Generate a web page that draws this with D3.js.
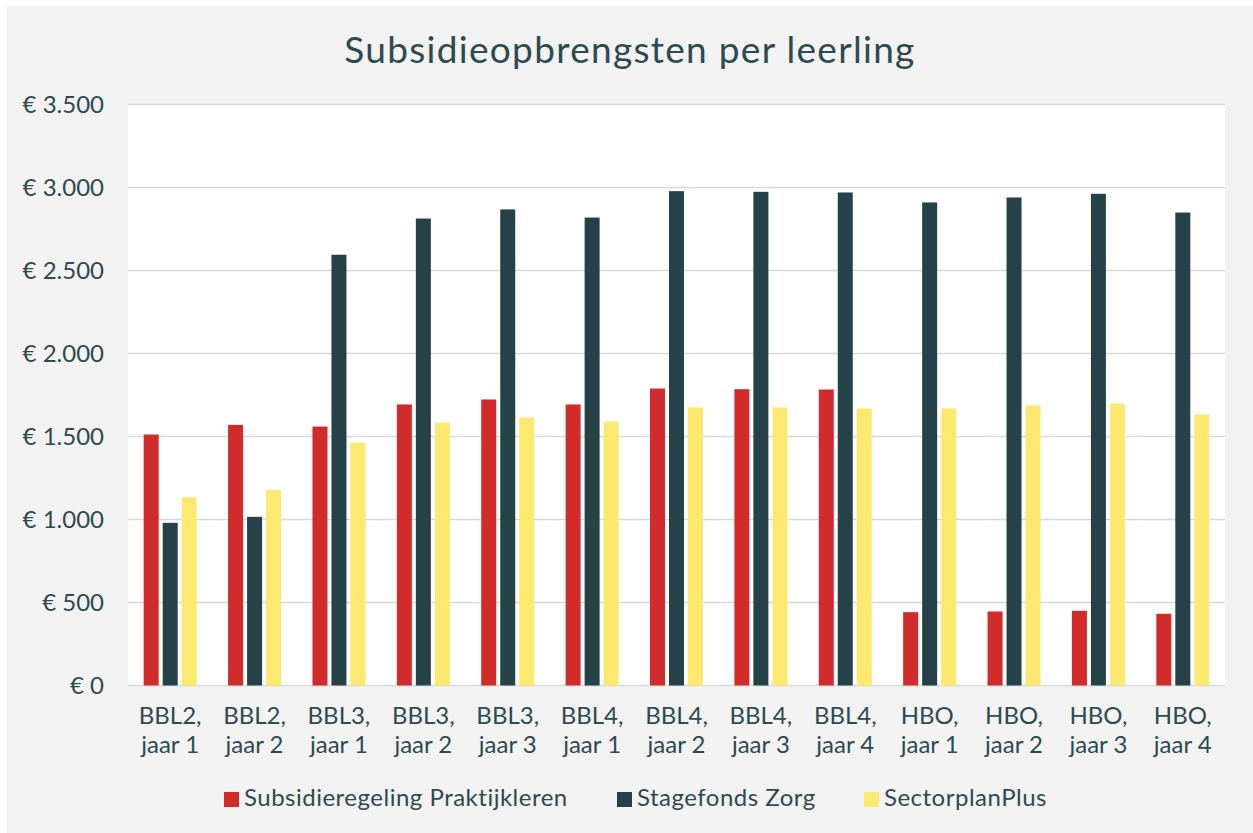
<!DOCTYPE html>
<html>
<head>
<meta charset="utf-8">
<script src="https://cdn.jsdelivr.net/npm/d3@7"></script>
<style>
  body { margin: 0; background: #fff; }
  svg { display: block; font-family: Lato, "Open Sans", sans-serif; }
</style>
</head>
<body>
<div id="chart"></div>
<script>
// categories, two lines each
var categories = [
  "BBL2,|jaar 1", "BBL2,|jaar 2", "BBL3,|jaar 1", "BBL3,|jaar 2", "BBL3,|jaar 3",
  "BBL4,|jaar 1", "BBL4,|jaar 2", "BBL4,|jaar 3", "BBL4,|jaar 4",
  "HBO,|jaar 1", "HBO,|jaar 2", "HBO,|jaar 3", "HBO,|jaar 4"
];
var seriesNames = ["Subsidieregeling Praktijkleren", "Stagefonds Zorg", "SectorplanPlus"];
var seriesColors = ["#d22b2b", "#254249", "#fde96f"];

var praktijkleren = [1512, 1570, 1560, 1693, 1723, 1693, 1789, 1785, 1783, 442, 446, 450, 432];
var stagefonds    = [ 980, 1016, 2595, 2813, 2868, 2819, 2978, 2974, 2970, 2910, 2940, 2962, 2849];
var sectorplan    = [1134, 1177, 1462, 1584, 1614, 1590, 1675, 1675, 1669, 1669, 1687, 1699, 1633];

var yTicks = [0, 500, 1000, 1500, 2000, 2500, 3000, 3500];

var W = 1253, H = 833;
var plot = {left: 128, right: 1225, top: 104.5, bottom: 685.5};
var textColor = "#2d4a50";

var svg = d3.select("#chart").append("svg").attr("width", W).attr("height", H);

svg.append("rect").attr("x", 7).attr("y", 6).attr("width", W - 7).attr("height", H - 6)
  .attr("fill", "#f2f2f2");
svg.append("rect").attr("x", plot.left).attr("y", plot.top)
  .attr("width", plot.right - plot.left).attr("height", plot.bottom - plot.top)
  .attr("fill", "#ffffff");

svg.append("text").attr("x", 630).attr("y", 63).attr("text-anchor", "middle")
  .attr("font-size", 37).attr("letter-spacing", 1.3).attr("fill", textColor)
  .text("Subsidieopbrengsten per leerling");

var x = d3.scaleBand().domain(categories).range([plot.left, plot.right]).padding(0);
var y = d3.scaleLinear().domain([0, 3500]).range([plot.bottom, plot.top]);

// gridlines
svg.append("g").selectAll("line").data(yTicks).join("line")
  .attr("x1", plot.left).attr("x2", plot.right)
  .attr("y1", function(d) { return y(d); }).attr("y2", function(d) { return y(d); })
  .attr("stroke", "#d9d9d9").attr("stroke-width", 1.5);

// y labels
var euro = d3.format(",");
svg.append("g").selectAll("text").data(yTicks).join("text")
  .attr("x", 104).attr("y", function(d) { return y(d) + 8.5; })
  .attr("text-anchor", "end").attr("font-size", 24).attr("fill", textColor)
  .text(function(d) { return "€ " + euro(d).replace(/,/g, "."); });

// bars
var allSeries = [praktijkleren, stagefonds, sectorplan];
var barW = 15, gap = 4;
allSeries.forEach(function(vals, si) {
  svg.append("g").selectAll("rect").data(vals).join("rect")
    .attr("x", function(d, i) {
      return x(categories[i]) + x.bandwidth() / 2 - barW / 2 + (si - 1) * (barW + gap);
    })
    .attr("y", function(d) { return y(d); })
    .attr("width", barW)
    .attr("height", function(d) { return y(0) - y(d); })
    .attr("fill", seriesColors[si]);
});

// category labels
var catG = svg.append("g").selectAll("text").data(categories).join("text")
  .attr("text-anchor", "middle").attr("font-size", 24).attr("fill", textColor);
catG.each(function(d) {
  var t = d3.select(this), parts = d.split("|"), cx = x(d) + x.bandwidth() / 2;
  t.append("tspan").attr("x", cx).attr("y", 724).text(parts[0]);
  t.append("tspan").attr("x", cx).attr("y", 753).text(parts[1]);
});

// legend
var legendX = [224, 617, 864];
var leg = svg.append("g").selectAll("g").data(seriesNames).join("g")
  .attr("transform", function(d, i) { return "translate(" + legendX[i] + ",0)"; });
leg.append("rect").attr("x", 0).attr("y", 792).attr("width", 15).attr("height", 15)
  .attr("fill", function(d, i) { return seriesColors[i]; });
leg.append("text").attr("x", 20).attr("y", 806).attr("font-size", 24).attr("letter-spacing", 0.5)
  .attr("fill", textColor)
  .text(function(d) { return d; });
</script>
</body>
</html>
